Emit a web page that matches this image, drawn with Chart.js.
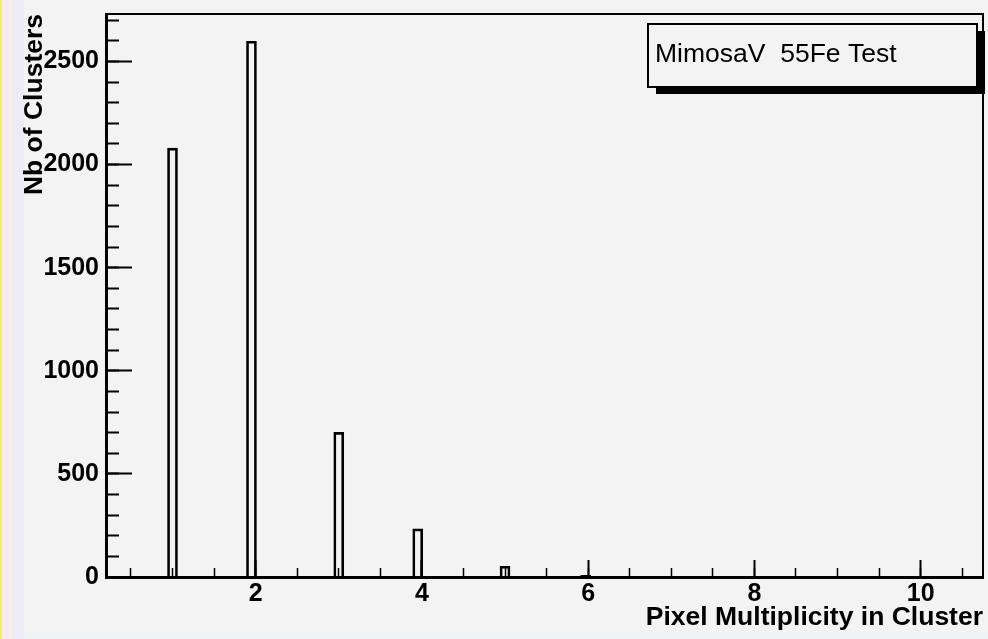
<!DOCTYPE html>
<html>
<head>
<meta charset="utf-8">
<title>Pixel multiplicity</title>
<script src="https://cdn.jsdelivr.net/npm/chart.js@4.4.0/dist/chart.umd.min.js"></script>
<style>
  html, body { margin: 0; padding: 0; }
  body {
    width: 988px; height: 639px; overflow: hidden;
    background:
      linear-gradient(to right, #f4ee6a 0, #f4ee6a 2px, #f7e9f1 2px, #f7e9f1 8px,
        #f5f2e4 8px, #f5f2e4 12px, #ecebf6 12px, #ecebf6 24px, transparent 24px),
      linear-gradient(to top, #eef4f3 0, #eef4f3 6px, #f3f3f3 6px);
  }
  canvas { display: block; }
</style>
</head>
<body>
<canvas id="multiplicity" width="988" height="639"></canvas>
<script>
// bin centres and counts of the cluster-size histogram
var binCentres = [1.0, 1.95, 3.0, 3.95, 5.0, 5.97];
var clusterCounts = [2080, 2598, 701, 233, 52, 8];

var xTickValues = [2, 4, 6, 8, 10];
var yTickValues = [0, 500, 1000, 1500, 2000, 2500];

var paveText = "MimosaV  55Fe Test";
var FONT = "'Liberation Sans', Arial, Helvetica, sans-serif";

function plainLabel(v){ return String(v); }

// the axis frame: top and right edges
var frameLines = {
    id: "frameLines",
    afterDatasetsDraw: function(chart){
        var a = chart.chartArea, ctx = chart.ctx;
        ctx.save();
        ctx.strokeStyle = "#000";
        ctx.lineWidth = 2;
        ctx.beginPath();
        ctx.moveTo(a.left, a.top);
        ctx.lineTo(a.right, a.top);
        ctx.lineTo(a.right, a.bottom);
        ctx.stroke();
        ctx.restore();
    }
};

// text box with drop shadow in the upper right
var paveBox = {
    id: "paveBox",
    afterDraw: function(chart){
        var a = chart.chartArea, ctx = chart.ctx;
        var x = a.right - 335, y = a.top + 10, w = 329, h = 63;
        ctx.save();
        ctx.fillStyle = "#000";
        ctx.fillRect(x + 8, y + 7, w, h);
        ctx.fillStyle = "#f3f3f3";
        ctx.fillRect(x, y, w, h);
        ctx.strokeStyle = "#000";
        ctx.lineWidth = 2;
        ctx.strokeRect(x, y, w, h);
        ctx.fillStyle = "#000";
        ctx.font = "26.5px " + FONT;
        ctx.textBaseline = "alphabetic";
        ctx.fillText(paveText, x + 7, y + 38);
        ctx.restore();
    }
};

function noPad(s){
    s.paddingTop = 0; s.paddingBottom = 0;
    s.paddingLeft = 0; s.paddingRight = 0;
}

var ctx = document.getElementById("multiplicity").getContext("2d");
new Chart(ctx, {
    type: "bar",
    data: {
        datasets: [{
            data: binCentres.map(function(x, i){ return { x: x, y: clusterCounts[i] }; }),
            backgroundColor: "rgba(0,0,0,0)",
            borderColor: "#000",
            borderWidth: 2,
            borderSkipped: "start",
            barThickness: 10,
            xAxisID: "x",
            yAxisID: "y"
        }]
    },
    options: {
        responsive: false,
        animation: false,
        devicePixelRatio: 1,
        layout: { padding: { top: 14, right: 5, left: 0, bottom: 0 } },
        plugins: { legend: { display: false }, tooltip: { enabled: false } },
        scales: {
            x: {
                type: "linear",
                position: "bottom",
                min: 0.2,
                max: 10.75,
                offset: false,
                afterBuildTicks: function(s){ s.ticks = xTickValues.map(function(v){ return { value: v }; }); },
                afterFit: function(s){ s.height = 62; noPad(s); },
                ticks: {
                    autoSkip: false,
                    maxRotation: 0,
                    padding: 19,
                    color: "#000",
                    callback: plainLabel,
                    font: { family: FONT, size: 25, weight: "bold" }
                },
                grid: { offset: false, drawOnChartArea: false, tickLength: -17, tickWidth: 2, tickColor: "#000" },
                border: { display: true, width: 3, color: "#000" },
                title: {
                    display: true,
                    text: "Pixel Multiplicity in Cluster",
                    align: "end",
                    color: "#000",
                    padding: { top: 0, bottom: 5 },
                    font: { family: FONT, size: 26.5, weight: "bold", lineHeight: 1.2 }
                }
            },
            xMinor: {
                type: "linear",
                position: "bottom",
                weight: -1,
                min: 0.2,
                max: 10.75,
                offset: false,
                afterFit: function(s){ s.height = 0; noPad(s); },
                ticks: { display: false, stepSize: 0.5, includeBounds: false, autoSkip: false },
                grid: { offset: false, drawOnChartArea: false, tickLength: -9, tickWidth: 1.5, tickColor: "#000" },
                border: { display: false }
            },
            y: {
                type: "linear",
                position: "left",
                min: 0,
                max: 2730,
                afterBuildTicks: function(s){ s.ticks = yTickValues.map(function(v){ return { value: v }; }); },
                afterFit: function(s){ s.width = 106; noPad(s); },
                ticks: {
                    padding: 33,
                    color: "#000",
                    callback: plainLabel,
                    font: { family: FONT, size: 25, weight: "bold" }
                },
                grid: { offset: false, drawOnChartArea: false, tickLength: -26, tickWidth: 2, tickColor: "#000" },
                border: { display: true, width: 3, color: "#000" },
                title: {
                    display: true,
                    text: "Nb of Clusters",
                    align: "end",
                    color: "#000",
                    padding: { top: 19, bottom: 0 },
                    font: { family: FONT, size: 26.5, weight: "bold", lineHeight: 1.2 }
                }
            },
            yMinor: {
                type: "linear",
                position: "left",
                weight: -1,
                min: 0,
                max: 2730,
                afterFit: function(s){ s.width = 0; noPad(s); },
                ticks: { display: false, stepSize: 100, includeBounds: false },
                grid: { offset: false, drawOnChartArea: false, tickLength: -13, tickWidth: 2, tickColor: "#000" },
                border: { display: false }
            }
        }
    },
    plugins: [frameLines, paveBox]
});
</script>
</body>
</html>
